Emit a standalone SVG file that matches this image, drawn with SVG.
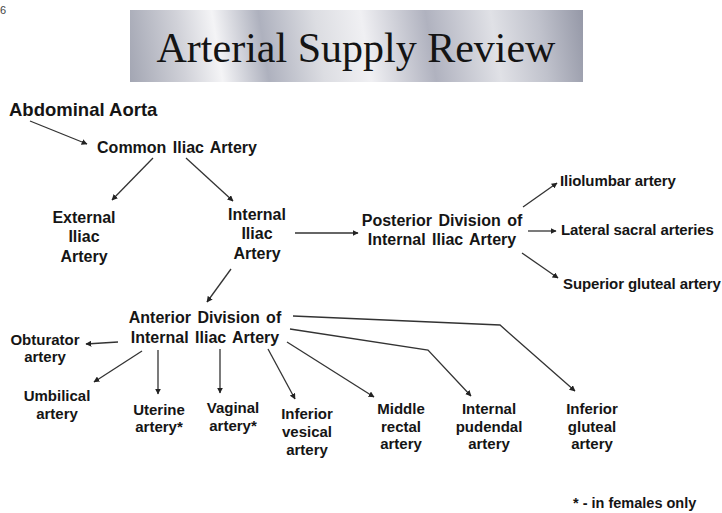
<svg xmlns="http://www.w3.org/2000/svg" width="722" height="513" viewBox="0 0 722 513">
<style>
.t{font-family:"Liberation Sans",Arial,sans-serif;font-weight:bold;fill:#151515}
.m{font-size:16px;text-anchor:middle;word-spacing:2px}
.s{font-size:15px;text-anchor:middle}
.r{font-size:15px;letter-spacing:-0.1px}
.c{fill:none;stroke:#333;stroke-width:1.3}
.a{marker-end:url(#ah)}
</style>
<defs>
<marker id="ah" viewBox="0 0 10 10" refX="9" refY="5" markerWidth="6" markerHeight="6" markerUnits="userSpaceOnUse" orient="auto">
<path d="M0,0 L10,5 L0,10 z" fill="#222"/>
</marker>
<linearGradient id="silver" x1="130" y1="82" x2="583" y2="10" gradientUnits="userSpaceOnUse">
<stop offset="0" stop-color="#a3a6b3"/>
<stop offset="0.12" stop-color="#d0d1d8"/>
<stop offset="0.2" stop-color="#f4f4f6"/>
<stop offset="0.3" stop-color="#aeb1be"/>
<stop offset="0.42" stop-color="#dcdde2"/>
<stop offset="0.52" stop-color="#f0f0f3"/>
<stop offset="0.66" stop-color="#b0b2bf"/>
<stop offset="0.8" stop-color="#e0e1e6"/>
<stop offset="0.9" stop-color="#c0c2cc"/>
<stop offset="1" stop-color="#9598a7"/>
</linearGradient>
</defs>
<rect width="722" height="513" fill="#ffffff"/>
<text x="0" y="14" font-family="Liberation Sans,Arial,sans-serif" font-size="11" fill="#444">6</text>
<g id="title">
<rect x="130" y="10" width="453" height="72" fill="url(#silver)"/>
<text x="356" y="62" text-anchor="middle" font-family="'Liberation Serif','Times New Roman',serif" font-size="42" fill="#141414">Arterial Supply Review</text>
</g>
<g id="connectors">
<line class="c a" x1="30" y1="121" x2="87" y2="144"/>
<line class="c a" x1="153" y1="158" x2="112" y2="200"/>
<line class="c a" x1="186" y1="158" x2="233" y2="201"/>
<line class="c a" x1="295" y1="233" x2="358" y2="233"/>
<line class="c a" x1="523" y1="207" x2="557" y2="183"/>
<line class="c a" x1="528" y1="231" x2="556" y2="231"/>
<line class="c a" x1="522" y1="253" x2="558" y2="278"/>
<line class="c a" x1="231" y1="269" x2="207" y2="302"/>
<line class="c a" x1="118" y1="342" x2="86" y2="344"/>
<line class="c a" x1="142" y1="351" x2="94" y2="382"/>
<line class="c a" x1="158" y1="350" x2="158" y2="394"/>
<line class="c a" x1="220" y1="349" x2="220" y2="393"/>
<line class="c a" x1="268" y1="349" x2="295" y2="399"/>
<line class="c a" x1="287" y1="342" x2="374" y2="397"/>
<polyline class="c a" points="290,329 428,350 471,396"/>
<polyline class="c a" points="293,316 500,325 575,391"/>
</g>
<g id="aorta"><text class="t" x="9" y="116" font-size="18.5">Abdominal Aorta</text></g>
<g id="common"><text class="t m" x="177" y="153">Common Iliac Artery</text></g>
<g id="external"><text class="t m"><tspan x="84" y="223">External</tspan><tspan x="84" y="242">Iliac</tspan><tspan x="84" y="262">Artery</tspan></text></g>
<g id="internal"><text class="t m"><tspan x="257" y="220">Internal</tspan><tspan x="257" y="239">Iliac</tspan><tspan x="257" y="259">Artery</tspan></text></g>
<g id="posterior"><text class="t m" word-spacing="4"><tspan x="442" y="226">Posterior Division of</tspan><tspan x="442" y="245">Internal Iliac Artery</tspan></text></g>
<g id="iliolumbar"><text class="t r" x="560" y="186">Iliolumbar artery</text></g>
<g id="lateral-sacral"><text class="t r" x="561" y="235">Lateral sacral arteries</text></g>
<g id="superior-gluteal"><text class="t r" x="563" y="289">Superior gluteal artery</text></g>
<g id="anterior"><text class="t m" word-spacing="4"><tspan x="205" y="323">Anterior Division of</tspan><tspan x="205" y="343">Internal Iliac Artery</tspan></text></g>
<g id="obturator"><text class="t s"><tspan x="45" y="345">Obturator</tspan><tspan x="45" y="362">artery</tspan></text></g>
<g id="umbilical"><text class="t s"><tspan x="57" y="401">Umbilical</tspan><tspan x="57" y="419">artery</tspan></text></g>
<g id="uterine"><text class="t s"><tspan x="159" y="415">Uterine</tspan><tspan x="159" y="432">artery*</tspan></text></g>
<g id="vaginal"><text class="t s"><tspan x="233" y="413">Vaginal</tspan><tspan x="233" y="431">artery*</tspan></text></g>
<g id="inferior-vesical"><text class="t s"><tspan x="307" y="419">Inferior</tspan><tspan x="307" y="437">vesical</tspan><tspan x="307" y="455">artery</tspan></text></g>
<g id="middle-rectal"><text class="t s"><tspan x="401" y="414">Middle</tspan><tspan x="401" y="432">rectal</tspan><tspan x="401" y="449">artery</tspan></text></g>
<g id="internal-pudendal"><text class="t s"><tspan x="489" y="414">Internal</tspan><tspan x="489" y="432">pudendal</tspan><tspan x="489" y="449">artery</tspan></text></g>
<g id="inferior-gluteal"><text class="t s"><tspan x="592" y="414">Inferior</tspan><tspan x="592" y="432">gluteal</tspan><tspan x="592" y="449">artery</tspan></text></g>
<g id="note"><text class="t" x="573" y="508" font-size="14.5">* - in females only</text></g>
</svg>
